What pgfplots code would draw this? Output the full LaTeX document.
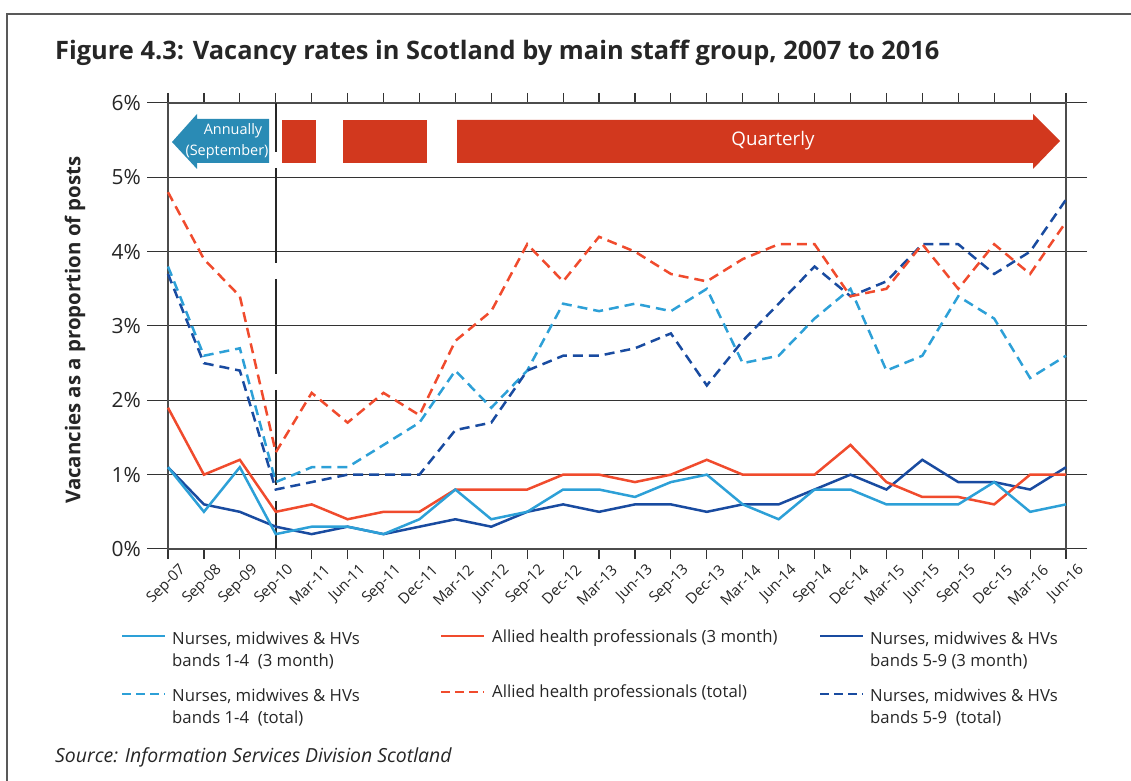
\documentclass[border=0pt]{standalone}
\usepackage{fontspec}
\setmainfont{Open Sans}
\usepackage{pgfplots}
\pgfplotsset{compat=1.18}
\definecolor{lb}{RGB}{45,160,215}
\definecolor{rd}{RGB}{240,75,45}
\definecolor{db}{RGB}{25,75,160}
\definecolor{arrblue}{RGB}{42,139,181}
\definecolor{arrred}{RGB}{210,56,30}
\begin{document}
\begin{tikzpicture}[x=1bp,y=1bp]
\path[use as bounding box] (0,0) rectangle (1131,781);
\draw[line width=2bp, black!65] (7,0) -- (7,767) -- (1131,767);
\node[anchor=base west, inner sep=0pt, font=\fontsize{25.5}{30}\selectfont\bfseries, text=black!85] at (55,721) {Figure 4.3: Vacancy rates in Scotland by main staff group, 2007 to 2016};
\node[rotate=90, inner sep=0pt, font=\fontsize{20.5}{24}\selectfont\bfseries, text=black!85] at (75,451) {Vacancies as a proportion of posts};
\begin{axis}[at={(168bp,232bp)}, anchor=south west, scale only axis,
  width=898bp, height=446bp,
  xmin=0, xmax=25, ymin=0, ymax=6,
  xtick={0,...,25},
  xticklabels={Sep-07,Sep-08,Sep-09,Sep-10,Mar-11,Jun-11,Sep-11,Dec-11,Mar-12,Jun-12,Sep-12,Dec-12,Mar-13,Jun-13,Sep-13,Dec-13,Mar-14,Jun-14,Sep-14,Dec-14,Mar-15,Jun-15,Sep-15,Dec-15,Mar-16,Jun-16},
  ytick={0,...,6},
  yticklabels={0\%,1\%,2\%,3\%,4\%,5\%,6\%},
  tick align=outside,
  major tick length=10bp,
  xtick style={black!80, line width=1.2bp},
  ytick style={/pgfplots/major tick length=21bp, black!80, line width=1bp},
  ymajorgrids, major grid style={black!80, line width=1bp},
  axis line style={black!70, line width=1.5bp},
  xticklabel style={rotate=45, anchor=east, font=\fontsize{15}{17}\selectfont, text=black!85, inner sep=0pt, yshift=-17bp, xshift=5bp},
  yticklabel style={font=\fontsize{21}{24}\selectfont, text=black!85, inner sep=0pt, xshift=-17bp},
  clip=false,
]
\draw[black!85, line width=2.5bp, dash pattern=on 95bp off 16bp, dash phase=46bp] (axis cs:3,6) -- (axis cs:3,0);
% Nurses 1-4 total
\addplot[lb, line width=2.5bp, dash pattern=on 10bp off 6bp] coordinates {
(0,3.8)(1,2.6)(2,2.7)(3,0.9)(4,1.1)(5,1.1)(6,1.4)(7,1.7)(8,2.4)(9,1.9)(10,2.4)(11,3.3)(12,3.2)(13,3.3)(14,3.2)(15,3.5)(16,2.5)(17,2.6)(18,3.1)(19,3.5)(20,2.4)(21,2.6)(22,3.4)(23,3.1)(24,2.3)(25,2.6)};
% Nurses 5-9 total
\addplot[db, line width=2.5bp, dash pattern=on 10bp off 6bp] coordinates {
(0,3.7)(1,2.5)(2,2.4)(3,0.8)(4,0.9)(5,1.0)(6,1.0)(7,1.0)(8,1.6)(9,1.7)(10,2.4)(11,2.6)(12,2.6)(13,2.7)(14,2.9)(15,2.2)(16,2.8)(17,3.3)(18,3.8)(19,3.4)(20,3.6)(21,4.1)(22,4.1)(23,3.7)(24,4.0)(25,4.7)};
% AHP total
\addplot[rd, line width=2.5bp, dash pattern=on 10bp off 6bp] coordinates {
(0,4.8)(1,3.9)(2,3.4)(3,1.3)(4,2.1)(5,1.7)(6,2.1)(7,1.8)(8,2.8)(9,3.2)(10,4.1)(11,3.6)(12,4.2)(13,4.0)(14,3.7)(15,3.6)(16,3.9)(17,4.1)(18,4.1)(19,3.4)(20,3.5)(21,4.1)(22,3.5)(23,4.1)(24,3.7)(25,4.4)};
% Nurses 5-9 3 month
\addplot[db, line width=2.5bp] coordinates {
(0,1.1)(1,0.6)(2,0.5)(3,0.3)(4,0.2)(5,0.3)(6,0.2)(7,0.3)(8,0.4)(9,0.3)(10,0.5)(11,0.6)(12,0.5)(13,0.6)(14,0.6)(15,0.5)(16,0.6)(17,0.6)(18,0.8)(19,1.0)(20,0.8)(21,1.2)(22,0.9)(23,0.9)(24,0.8)(25,1.1)};
% AHP 3 month
\addplot[rd, line width=2.5bp] coordinates {
(0,1.9)(1,1.0)(2,1.2)(3,0.5)(4,0.6)(5,0.4)(6,0.5)(7,0.5)(8,0.8)(9,0.8)(10,0.8)(11,1.0)(12,1.0)(13,0.9)(14,1.0)(15,1.2)(16,1.0)(17,1.0)(18,1.0)(19,1.4)(20,0.9)(21,0.7)(22,0.7)(23,0.6)(24,1.0)(25,1.0)};
% Nurses 1-4 3 month
\addplot[lb, line width=2.5bp] coordinates {
(0,1.1)(1,0.5)(2,1.1)(3,0.2)(4,0.3)(5,0.3)(6,0.2)(7,0.4)(8,0.8)(9,0.4)(10,0.5)(11,0.8)(12,0.8)(13,0.7)(14,0.9)(15,1.0)(16,0.6)(17,0.4)(18,0.8)(19,0.8)(20,0.6)(21,0.6)(22,0.6)(23,0.9)(24,0.5)(25,0.6)};
\end{axis}
% annotation arrows
\fill[arrblue] (172,639) -- (197,667) -- (197,662) -- (269,662) -- (269,618) -- (197,618) -- (197,612) -- cycle;
\node[text=white, font=\fontsize{14.5}{16}\selectfont, inner sep=0pt] at (233,650) {Annually};
\node[text=white, font=\fontsize{14.5}{16}\selectfont, inner sep=0pt] at (227,629) {(September)};
\fill[arrred] (282,618) rectangle (316,661);
\fill[arrred] (343,618) rectangle (427,661);
\fill[arrred] (457,661) -- (1033,661) -- (1033,667) -- (1060,640) -- (1033,612) -- (1033,618) -- (457,618) -- cycle;
\node[text=white, font=\fontsize{18.8}{22}\selectfont, inner sep=0pt] at (773,640) {Quarterly};
% legend
\begin{scope}[font=\fontsize{16.8}{23}\selectfont]
\draw[lb, line width=2.5bp] (122,145) -- (165,145);
\node[anchor=base west, align=left, inner sep=0pt, text=black!85] at (172,114) {Nurses, midwives \& HVs\\bands 1-4\ \ (3 month)};
\draw[rd, line width=2.5bp] (441,145) -- (484,145);
\node[anchor=base west, align=left, inner sep=0pt, text=black!85] at (492,138) {Allied health professionals (3 month)};
\draw[db, line width=2.5bp] (820,145) -- (863,145);
\node[anchor=base west, align=left, inner sep=0pt, text=black!85] at (870,114) {Nurses, midwives \& HVs\\bands 5-9 (3 month)};
\draw[lb, line width=2.5bp, dash pattern=on 9bp off 5bp] (122,87) -- (165,87);
\node[anchor=base west, align=left, inner sep=0pt, text=black!85] at (172,57) {Nurses, midwives \& HVs\\bands 1-4\ \ (total)};
\draw[rd, line width=2.5bp, dash pattern=on 9bp off 5bp] (441,89) -- (484,89);
\node[anchor=base west, align=left, inner sep=0pt, text=black!85] at (492,83) {Allied health professionals (total)};
\draw[db, line width=2.5bp, dash pattern=on 9bp off 5bp] (820,87) -- (863,87);
\node[anchor=base west, align=left, inner sep=0pt, text=black!85] at (870,57) {Nurses, midwives \& HVs\\bands 5-9\ \ (total)};
\end{scope}
\node[anchor=base west, inner sep=0pt, font=\fontsize{19.5}{22}\selectfont\itshape, text=black!85] at (55,18) {Source: Information Services Division Scotland};
\end{tikzpicture}
\end{document}
